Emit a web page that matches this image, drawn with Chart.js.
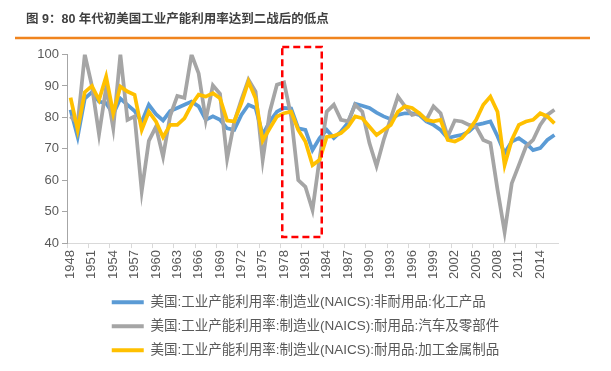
<!DOCTYPE html>
<html><head><meta charset="utf-8">
<script src="https://cdn.jsdelivr.net/npm/chart.js@4/dist/chart.umd.min.js"></script>
<style>html,body{margin:0;padding:0;background:#fff;}#wrap{width:611px;height:371px;}</style>
</head><body><div id="wrap"><canvas id="c" width="611" height="371"></canvas></div>
<script>
const years = ['1948','1949','1950','1951','1952','1953','1954','1955','1956','1957','1958','1959','1960','1961','1962','1963','1964','1965','1966','1967','1968','1969','1970','1971','1972','1973','1974','1975','1976','1977','1978','1979','1980','1981','1982','1983','1984','1985','1986','1987','1988','1989','1990','1991','1992','1993','1994','1995','1996','1997','1998','1999','2000','2001','2002','2003','2004','2005','2006','2007','2008','2009','2010','2011','2012','2013','2014','2015','2016'];

const chemicals = [82.4,73.8,86,88,85,84.5,81,86,84,82,78.5,84,81,79,82,83,84,85,83.5,79.2,80.3,79.2,76.5,76,80.8,84,83,74.5,78.7,81.8,83,82.8,76.5,76,69.6,73.4,76,73.4,75.5,78.3,84.3,83.7,83,81.5,80.3,79.4,80.8,81.3,81.3,80.8,78.7,77.6,76,73.4,74,74.4,75.5,77.6,78.1,78.7,74,68.6,72.3,73.4,71.8,69.6,70.2,72.8,74.4];

const autos = [80.3,78,100,90,74.6,89.5,76.5,100,79.2,80.3,56.5,72.5,77,67.5,80.5,86.8,86.2,100,94,79.2,90.2,87.5,66.8,78.5,85.6,92,88.2,66.4,81.8,90.4,91.1,80.3,60,57.9,50.5,67,81.8,84,79.2,78.7,84,81.8,71.8,64.5,72.8,79.7,86.6,83.5,80.8,81.3,79.2,83.5,81.3,73.9,79,78.7,77.6,77,72.8,71.8,57,43.5,59,64.8,70.7,72.8,77.6,80.8,82.4];

const metals = [86.3,76,88,90,85.5,93,81.3,89.8,88.2,87.2,76,81.8,78.7,73.7,77.6,77.6,79.7,84,87.2,86.6,87.7,86.1,79,78.7,84.5,91.4,86.1,72.6,76.5,80.3,81.3,81.8,76,72.3,64.8,66.5,73.8,74.1,75,77,80.3,79.7,77,74.4,76,77.6,81.8,83.5,83,81.3,79.2,78.7,79.2,72.8,72.3,73.4,76,79.2,84,86.6,81.8,64.8,72.8,77.6,78.7,79.2,81.3,80.3,78.1];

const seriesNames = [
  '美国:工业产能利用率:制造业(NAICS):非耐用品:化工产品',
  '美国:工业产能利用率:制造业(NAICS):耐用品:汽车及零部件',
  '美国:工业产能利用率:制造业(NAICS):耐用品:加工金属制品'
];
const yTicks = [40,50,60,70,80,90,100];
const titleText = '图 9：80 年代初美国工业产能利用率达到二战后的低点';

// highlighted period (category index / value units)
const boxFrom = 29.75, boxTo = 35.3, boxTop = 102.4, boxBottom = 41.9;

const FONT = '"Liberation Sans", "Noto Sans CJK SC", Arial, sans-serif';

const decor = {
  id: 'decor',
  afterLayout(chart) {
    const lg = chart.legend;
    if (lg && lg.lineWidths && lg.lineWidths.length) {
      const m = Math.max(...lg.lineWidths);
      lg.lineWidths = lg.lineWidths.map(() => m);
    }
  },
  afterDatasetsDraw(chart) {
    const ctx = chart.ctx, xs = chart.scales.x, ys = chart.scales.y;
    const x1 = xs.getPixelForValue(boxFrom), x2 = xs.getPixelForValue(boxTo);
    const y1 = ys.getPixelForValue(boxTop), y2 = ys.getPixelForValue(boxBottom);
    ctx.save();
    ctx.strokeStyle = '#FF0000';
    ctx.lineWidth = 2.5;
    ctx.setLineDash([7, 4]);
    ctx.strokeRect(x1, y1, x2 - x1, y2 - y1);
    ctx.restore();
  },
  afterDraw(chart) {
    const ctx = chart.ctx;
    ctx.save();
    ctx.strokeStyle = '#F0841E';
    ctx.lineWidth = 2.5;
    ctx.beginPath();
    ctx.moveTo(15, 38);
    ctx.lineTo(590, 38);
    ctx.stroke();
    ctx.restore();
  }
};

Chart.defaults.font.family = FONT;

new Chart(document.getElementById('c'), {
  type: 'line',
  data: {
    labels: years,
    datasets: [
      { label: seriesNames[0], data: chemicals, borderColor: '#5B9BD5', backgroundColor: '#5B9BD5', borderWidth: 3.75, pointRadius: 0, tension: 0, order: 3 },
      { label: seriesNames[1], data: autos, borderColor: '#A5A5A5', backgroundColor: '#A5A5A5', borderWidth: 3.75, pointRadius: 0, tension: 0, order: 2 },
      { label: seriesNames[2], data: metals, borderColor: '#FFC000', backgroundColor: '#FFC000', borderWidth: 3.75, pointRadius: 0, tension: 0, order: 1 }
    ]
  },
  options: {
    responsive: false,
    devicePixelRatio: 1,
    animation: false,
    layout: { padding: { left: 26, right: 26, top: 0, bottom: 4 } },
    plugins: {
      tooltip: { enabled: false },
      title: {
        display: true, text: titleText, align: 'start', color: '#404040',
        font: { size: 12.5, weight: 'bold', family: FONT },
        padding: { top: 12, bottom: 27.5 }
      },
      legend: {
        position: 'bottom',
        labels: {
          boxWidth: 32, boxHeight: 4, padding: 10.5, color: '#595959',
          font: { size: 13.5, family: FONT },
          sort: (a, b) => a.datasetIndex - b.datasetIndex,
          generateLabels(chart) {
            const items = Chart.defaults.plugins.legend.labels.generateLabels(chart);
            items.forEach(it => { it.lineWidth = 0; it.fillStyle = it.strokeStyle; });
            return items;
          }
        }
      }
    },
    scales: {
      x: {
        offset: true,
        afterFit: s => { s.height += 4; },
        grid: {
          drawOnChartArea: false, drawTicks: true, tickLength: 5, offset: true,
          tickColor: c => (c.index % 3 === 0 ? '#D9D9D9' : 'rgba(0,0,0,0)')
        },
        border: { display: true, color: '#D9D9D9', width: 1 },
        ticks: {
          autoSkip: false, maxRotation: 90, minRotation: 90, padding: 2,
          color: '#595959', font: { size: 13, family: FONT },
          callback: (v, i) => (i % 3 === 0 ? years[i] : '')
        }
      },
      y: {
        min: 40, max: 100,
        afterFit: s => { s.width = 41; },
        afterBuildTicks: s => { s.ticks = yTicks.map(v => ({ value: v })); },
        grid: { drawOnChartArea: false, drawTicks: true, tickLength: 5, tickColor: '#A6A6A6' },
        border: { display: true, color: '#A6A6A6', width: 1 },
        ticks: { padding: 3, color: '#595959', font: { size: 13, family: FONT } }
      },
      spacer: {
        type: 'linear', position: 'right', display: true,
        afterFit: s => { s.width = 27; },
        grid: { display: false, drawTicks: false },
        border: { display: false },
        ticks: { display: false }
      }
    }
  },
  plugins: [decor]
});
</script>
</body></html>
